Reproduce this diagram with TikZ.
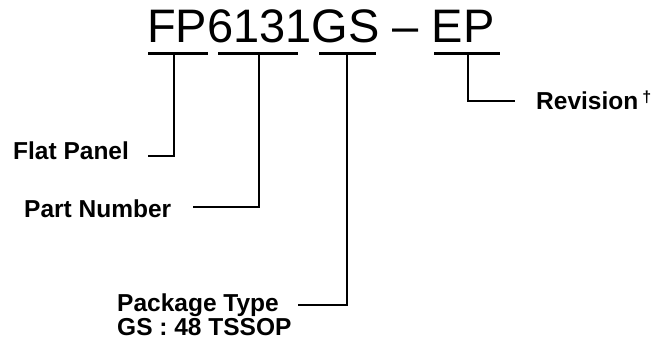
\documentclass[tikz,border=0pt]{standalone}
\usepackage{fontspec}
\setmainfont{Liberation Sans}
\usetikzlibrary{calc}

\begin{document}
\begin{tikzpicture}[
  x=1pt, y=-1pt,
  code/.style={inner sep=0pt, anchor=base west, font=\fontsize{47}{50}\selectfont},
  lbl/.style={inner sep=0pt, anchor=base west, align=left,
              font=\fontsize{24.5}{22}\selectfont\bfseries},
  bar/.style={line width=3pt},
  lead/.style={line width=2.4pt},
]
\useasboundingbox (0,0) rectangle (656,349);
\node[code] (pn) at (147,42) {FP6131GS -- EP};

% underline bars of the fields
\draw[bar] (148,53.5) -- (208,53.5);
\draw[bar] (218,53.5) -- (298,53.5);
\draw[bar] (319,53.5) -- (376,53.5);
\draw[bar] (434,53.5) -- (500,53.5);
\coordinate (fpbar)  at (174,53.5);
\coordinate (numbar) at (259,53.5);
\coordinate (pkgbar) at (347,53.5);
\coordinate (revbar) at (468,53.5);

\node[lbl] (flat) at (13,159) {Flat Panel};
\node[lbl] (part) at (24,217) {Part Number};
\node[lbl] (pkg) at (117,335) {Package Type\\GS : 48 TSSOP};
\node[lbl] (rev) at (536,109)
  {Revision\,\raisebox{7pt}{\fontsize{16}{16}\selectfont †}};

% leaders: label -> field
\coordinate (flatend) at (148,156);
\coordinate (partend) at (193,207);
\coordinate (pkgend)  at (298,305);
\coordinate (revend)  at (515,101);
\draw[lead] (flatend) -| (fpbar);
\draw[lead] (partend) -| (numbar);
\draw[lead] (pkgend) -| (pkgbar);
\draw[lead] (revbar) |- (revend);
\end{tikzpicture}
\end{document}
